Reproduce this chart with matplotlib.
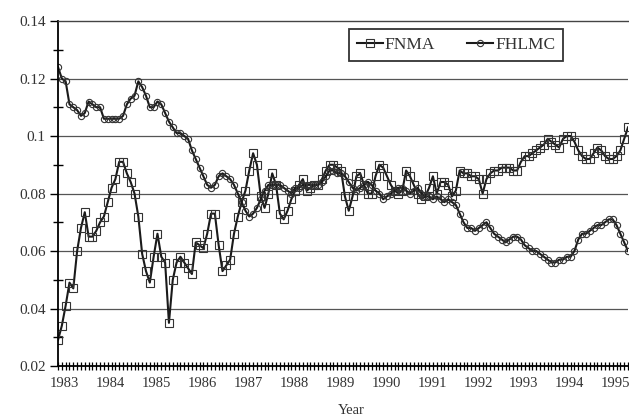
import numpy as np
import matplotlib
matplotlib.use("Agg")
import matplotlib.pyplot as plt

# monthly values, Jan 1983 .. mid 1995
fnma = [0.029, 0.034, 0.041, 0.049, 0.047, 0.060, 0.068, 0.0735, 0.065, 0.065,
        0.067, 0.070, 0.072, 0.077, 0.082, 0.085, 0.091, 0.091, 0.087, 0.084,
        0.080, 0.072, 0.059, 0.053, 0.049, 0.058, 0.066, 0.058, 0.056, 0.035,
        0.050, 0.056, 0.058, 0.056, 0.054, 0.052, 0.063, 0.062, 0.061, 0.066,
        0.073, 0.073, 0.062, 0.053, 0.055, 0.057, 0.066, 0.072, 0.077, 0.081,
        0.088, 0.094, 0.090, 0.079, 0.075, 0.080, 0.087, 0.083, 0.073, 0.071,
        0.074, 0.078, 0.081, 0.083, 0.085, 0.081, 0.082, 0.083, 0.083, 0.085,
        0.088, 0.090, 0.090, 0.089, 0.088, 0.079, 0.074, 0.079, 0.086, 0.087,
        0.083, 0.080, 0.080, 0.086, 0.090, 0.089, 0.086, 0.083, 0.081, 0.080,
        0.081, 0.088, 0.086, 0.083, 0.080, 0.078, 0.079, 0.082, 0.086, 0.080,
        0.084, 0.084, 0.083, 0.079, 0.081, 0.088, 0.087, 0.087, 0.086, 0.086,
        0.085, 0.080, 0.085, 0.087, 0.088, 0.088, 0.089, 0.089, 0.089, 0.088,
        0.088, 0.091, 0.093, 0.093, 0.094, 0.095, 0.096, 0.097, 0.099, 0.098,
        0.097, 0.096, 0.099, 0.100, 0.100, 0.098, 0.095, 0.093, 0.092, 0.092,
        0.094, 0.096, 0.095, 0.093, 0.092, 0.092, 0.093, 0.095, 0.099, 0.103]

fhlmc = [0.124, 0.120, 0.119, 0.111, 0.110, 0.109, 0.107, 0.108, 0.112, 0.111,
         0.110, 0.110, 0.106, 0.106, 0.106, 0.106, 0.106, 0.107, 0.111, 0.113,
         0.114, 0.119, 0.117, 0.114, 0.110, 0.110, 0.112, 0.111, 0.108, 0.105,
         0.103, 0.101, 0.101, 0.100, 0.099, 0.095, 0.092, 0.089, 0.086, 0.083,
         0.082, 0.083, 0.086, 0.087, 0.086, 0.085, 0.083, 0.080, 0.077, 0.074,
         0.072, 0.073, 0.075, 0.078, 0.081, 0.083, 0.083, 0.083, 0.083, 0.082,
         0.081, 0.080, 0.082, 0.082, 0.083, 0.083, 0.083, 0.083, 0.083, 0.084,
         0.086, 0.088, 0.088, 0.087, 0.087, 0.086, 0.084, 0.082, 0.081, 0.082,
         0.083, 0.084, 0.083, 0.081, 0.080, 0.078, 0.079, 0.080, 0.081, 0.082,
         0.082, 0.081, 0.080, 0.081, 0.082, 0.080, 0.079, 0.079, 0.078, 0.079,
         0.078, 0.077, 0.078, 0.077, 0.076, 0.073, 0.070, 0.068, 0.068, 0.067,
         0.068, 0.069, 0.070, 0.068, 0.066, 0.065, 0.064, 0.063, 0.064, 0.065,
         0.065, 0.064, 0.062, 0.061, 0.060, 0.060, 0.059, 0.058, 0.057, 0.056,
         0.056, 0.057, 0.057, 0.058, 0.058, 0.060, 0.064, 0.066, 0.066, 0.067,
         0.068, 0.069, 0.069, 0.070, 0.071, 0.071, 0.069, 0.066, 0.063, 0.060]

years = [str(y) for y in range(1983, 1996)]
yticks = [0.02, 0.04, 0.06, 0.08, 0.1, 0.12, 0.14]
ylabels = ["0.02", "0.04", "0.06", "0.08", "0.1", "0.12", "0.14"]

plt.rcParams['font.family'] = ['Liberation Serif', 'DejaVu Serif']

fig = plt.figure(figsize=(6.29, 4.18), dpi=100)
ax = fig.add_axes([58 / 629, 1 - 366 / 418, 570 / 629, 345 / 418])

x = np.arange(len(fnma))
ink = '#1a1a1a'
ax.plot(x, fnma, color=ink, lw=1.5, marker='s', ms=5.5, mfc='none',
        mec='#333333', mew=0.8, label='FNMA')
ax.plot(x, fhlmc, color=ink, lw=1.5, marker='o', ms=4.5, mfc='none',
        mec='#333333', mew=0.8, label='FHLMC')

ax.set_xlim(0, len(fnma) - 1)
ax.set_ylim(0.02, 0.14)

# gridlines
for v in yticks[1:-1]:
    ax.axhline(v, color='#555555', lw=0.9, zorder=0)

ax.spines['right'].set_visible(False)
ax.spines['top'].set_color('#444444')
ax.spines['top'].set_linewidth(1.0)
for s in ('left', 'bottom'):
    ax.spines[s].set_color('black')
    ax.spines[s].set_linewidth(1.3)

ax.set_yticks(yticks)
ax.set_yticklabels(ylabels)
ax.set_yticks([0.03, 0.05, 0.07, 0.09, 0.11, 0.13], minor=True)
ax.tick_params(axis='y', which='major', direction='out', length=6, width=1,
               pad=3, labelsize=11, labelcolor='#333333')
ax.tick_params(axis='y', which='minor', direction='inout', length=7, width=1)

# month ticks, year labels
ax.set_xticks(x, minor=True)
ax.set_xticks([12 * k + 1.8 for k in range(len(years))])
ax.set_xticklabels(years)
ax.tick_params(axis='x', which='minor', direction='inout', length=6, width=0.9)
ax.tick_params(axis='x', which='major', length=0, pad=8, labelsize=10.5,
               labelcolor='#333333')

fig.text(351 / 629, 1 - 410 / 418, 'Year', ha='center', va='center',
         fontsize=10.5, color='#333333')

leg = ax.legend(loc='upper left', ncol=2, frameon=True, fancybox=False,
                bbox_to_anchor=(349 / 629, 1 - 33 / 418, 214 / 629, 0.01),
                bbox_transform=fig.transFigure, mode='expand',
                fontsize=12.5, handlelength=1.5, handletextpad=0.1,
                columnspacing=1.0, borderpad=0.45, borderaxespad=0)
leg.get_frame().set_edgecolor('black')
leg.get_frame().set_linewidth(1.3)
for t in leg.get_texts():
    t.set_color('#333333')

fig.savefig('out.png', dpi=100)
